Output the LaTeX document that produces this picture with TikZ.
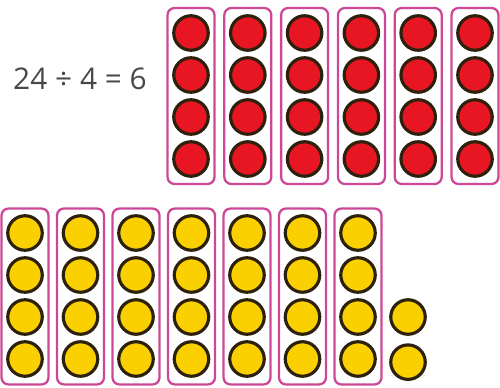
\documentclass[tikz,border=0pt]{standalone}
\usepackage{fontspec}
\setmainfont{Open Sans}
\usepackage{tikz}
\usetikzlibrary{positioning}
\definecolor{groupline}{RGB}{204,72,150}
\definecolor{counterred}{RGB}{232,22,34}
\definecolor{counteryellow}{RGB}{250,208,0}
\definecolor{counterrim}{RGB}{45,32,12}
\definecolor{sumgrey}{RGB}{72,72,72}

\begin{document}
\begin{tikzpicture}[
  x=0.02cm, y=-0.02cm,
  group/.style={draw=groupline, line width=1.3pt, rectangle, rounded corners=4pt, minimum width=0.94cm, minimum height=3.52cm, inner sep=0pt},
  counter/.style={draw=counterrim, line width=1.8pt, circle, minimum size=0.69cm, inner sep=0pt},
  sum/.style={font=\fontsize{17}{20}\selectfont, text=sumgrey, inner sep=0pt}
]
\useasboundingbox (0,0) rectangle (500,388);
\node[sum] (calc) at (80,79) {24 ÷ 4 = 6};
% red groups of four
\foreach \i in {0,...,5} {
  \node[group] (rg\i) at ({191+56.8*\i},96) {};
  \foreach \j in {0,...,3}
    \node[counter, fill=counterred] (r\i-\j) at ({191+56.8*\i},{33+42*\j}) {};
}
% yellow groups of four
\foreach \i in {0,...,6} {
  \node[group] (yg\i) at ({25+55.5*\i},296.5) {};
  \foreach \j in {0,...,3}
    \node[counter, fill=counteryellow] (y\i-\j) at ({25+55.5*\i},{233+42*\j}) {};
}
% remainder
\node[counter, fill=counteryellow] (rest1) at (408,317) {};
\node[counter, fill=counteryellow, below=0.15cm of rest1] (rest2) {};
\end{tikzpicture}
\end{document}
